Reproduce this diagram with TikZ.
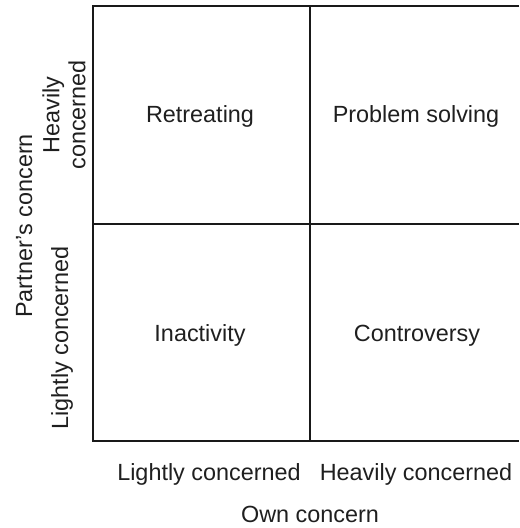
\documentclass[tikz,border=0pt]{standalone}
\usepackage{fontspec}
\setmainfont{Liberation Sans}

\tikzset{
  quadrant/.style={font=\fontsize{11.7}{13}\selectfont, text=black!88, inner sep=0pt},
  axislabel/.style={quadrant, rotate=90},
  gridline/.style={line width=1pt, black!90},
}

\begin{document}
\begin{tikzpicture}[x=0.5pt, y=-0.5pt]
      \useasboundingbox (0,0) rectangle (519,528);

      % frame of the 2x2 grid, open on the right
      \coordinate (nw) at (93,6);
      \coordinate (ne) at (519,6);
      \coordinate (sw) at (93,441);
      \coordinate (se) at (519,441);
      \coordinate (w) at (93,224);
      \coordinate (e) at (519,224);
      \coordinate (n) at (310,6);
      \coordinate (s) at (310,441);

      \draw[gridline] (ne) -- (nw) -- (sw) -- (se);
      \draw[gridline] (w) -- (e);
      \draw[gridline] (n) -- (s);

      % quadrants
      \node[quadrant, anchor=base] (retreat) at (200,123) {Retreating};
      \node[quadrant, anchor=base] (solve) at (416,123) {Problem solving};
      \node[quadrant, anchor=base] (inact) at (200,341) {Inactivity};
      \node[quadrant, anchor=base] (contro) at (417,341) {Controversy};

      % own concern along the bottom
      \node[quadrant, anchor=base] (ownlight) at (209,480) {Lightly concerned};
      \node[quadrant, anchor=base] (ownheavy) at (416,480) {Heavily concerned};
      \node[quadrant, anchor=base] (own) at (310,522) {Own concern};

      % partner's concern up the left side
      \node[axislabel, align=center, anchor=center] (partheavy) at (64,115) {Heavily\\concerned};
      \node[axislabel, anchor=base] (partlight) at (68,338) {Lightly concerned};
      \node[axislabel, anchor=base] (partner) at (32,226) {Partner's concern};
\end{tikzpicture}
\end{document}
